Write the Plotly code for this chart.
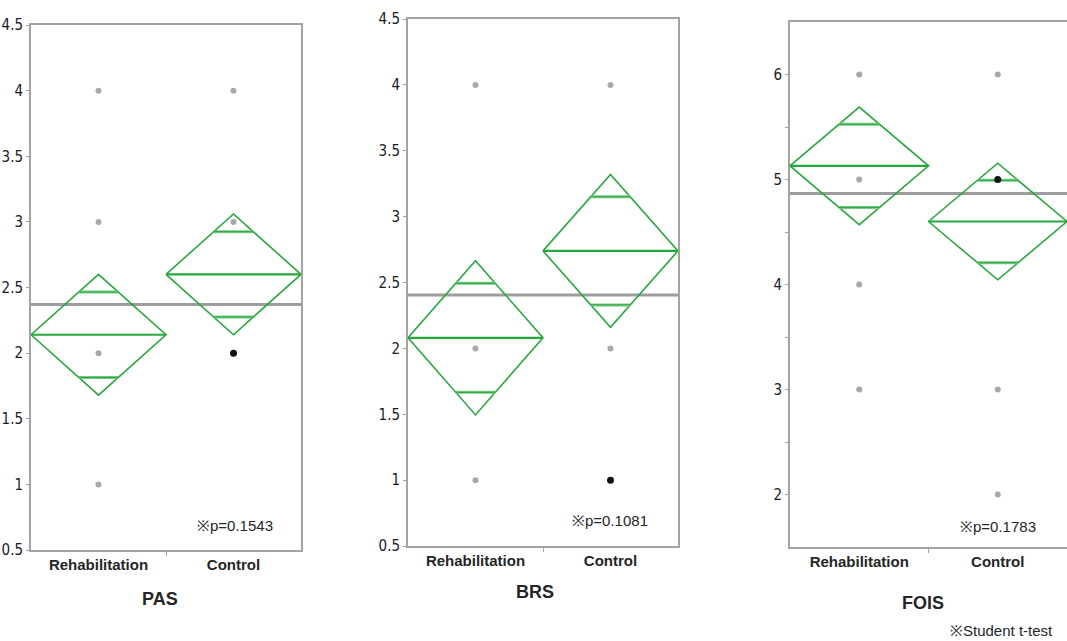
import plotly.graph_objects as go
import math

W, H = 1067, 641

categories = ["Rehabilitation", "Control"]
cat_pos = [0, 1]

# PAS
pas_gray_x = [0, 0, 0, 0, 1, 1]
pas_gray_y = [4, 3, 2, 1, 4, 3]
pas_dark_x = [1]
pas_dark_y = [2]
pas_means = [2.14, 2.60]
pas_ci = [0.46, 0.46]
pas_grand = 2.37
pas_p = "※p=0.1543"

# BRS
brs_gray_x = [0, 0, 0, 1, 1]
brs_gray_y = [4, 2, 1, 4, 2]
brs_dark_x = [1]
brs_dark_y = [1]
brs_means = [2.08, 2.74]
brs_ci = [0.585, 0.58]
brs_grand = 2.405
brs_p = "※p=0.1081"

# FOIS
fois_gray_x = [0, 0, 0, 0, 1, 1, 1]
fois_gray_y = [6, 5, 4, 3, 6, 3, 2]
fois_dark_x = [1]
fois_dark_y = [5]
fois_means = [5.13, 4.60]
fois_ci = [0.56, 0.555]
fois_grand = 4.867
fois_p = "※p=0.1783"

y_ticks_pas = [0.5, 1, 1.5, 2, 2.5, 3, 3.5, 4, 4.5]
y_ticktext_pas = ["0.5", "1", "1.5", "2", "2.5", "3", "3.5", "4", "4.5"]
y_ticks_fois = [2, 3, 4, 5, 6]
y_ticktext_fois = ["2", "3", "4", "5", "6"]
y_minor_fois = [2.5, 3.5, 4.5, 5.5]

panel_titles = ["PAS", "BRS", "FOIS"]
footnote = "※Student t-test"

GREEN = "#27a83e"
GREEN_LIGHT = "#79c985"
GRAY_LINE = "#9d9d9d"
AXIS_GRAY = "#a3a3a3"
TXT = "#262626"

fig = go.Figure()


def add_panel(idx, gx, gy, dx, dy, means, ci, grand):
    xa = "x" if idx == 1 else f"x{idx}"
    ya = "y" if idx == 1 else f"y{idx}"
    fig.add_trace(go.Scatter(x=[-0.5, 1.5], y=[grand, grand], mode="lines",
                             line=dict(color=GRAY_LINE, width=3), xaxis=xa, yaxis=ya,
                             hoverinfo="skip", showlegend=False))
    for c, m, h in zip(cat_pos, means, ci):
        fig.add_trace(go.Scatter(x=[c - 0.5, c, c + 0.5, c, c - 0.5],
                                 y=[m, m + h, m, m - h, m], mode="lines",
                                 line=dict(color=GREEN, width=1.6), xaxis=xa, yaxis=ya,
                                 hoverinfo="skip", showlegend=False))
        fig.add_trace(go.Scatter(x=[c - 0.5, c + 0.5], y=[m, m], mode="lines",
                                 line=dict(color=GREEN, width=2.2), xaxis=xa, yaxis=ya,
                                 hoverinfo="skip", showlegend=False))
        d = h * math.sqrt(2) / 2
        hw = 0.5 * (1 - d / h)
        for yy in (m + d, m - d):
            fig.add_trace(go.Scatter(x=[c - hw, c + hw], y=[yy, yy], mode="lines",
                                     line=dict(color=GREEN_LIGHT, width=3), xaxis=xa, yaxis=ya,
                                     hoverinfo="skip", showlegend=False))
            fig.add_trace(go.Scatter(x=[c - hw, c + hw], y=[yy, yy], mode="lines",
                                     line=dict(color=GREEN, width=1), xaxis=xa, yaxis=ya,
                                     hoverinfo="skip", showlegend=False))
    fig.add_trace(go.Scatter(x=gx, y=gy, mode="markers",
                             marker=dict(symbol="circle", size=6, color="#a8a8a8"),
                             xaxis=xa, yaxis=ya, hoverinfo="skip", showlegend=False))
    fig.add_trace(go.Scatter(x=dx, y=dy, mode="markers",
                             marker=dict(symbol="circle", size=7, color="#111111"),
                             xaxis=xa, yaxis=ya, hoverinfo="skip", showlegend=False))


add_panel(1, pas_gray_x, pas_gray_y, pas_dark_x, pas_dark_y, pas_means, pas_ci, pas_grand)
add_panel(2, brs_gray_x, brs_gray_y, brs_dark_x, brs_dark_y, brs_means, brs_ci, brs_grand)
add_panel(3, fois_gray_x, fois_gray_y, fois_dark_x, fois_dark_y, fois_means, fois_ci, fois_grand)


def px(v):
    return v / W


def py(v):
    return 1 - v / H


tick_font = dict(family="DejaVu Sans Condensed, Liberation Sans Narrow, Liberation Sans",
                 size=15, color="#1a1a2a")
cat_font = dict(family="Liberation Sans, Arial", size=15, color=TXT)

boxes = [
    (31, 301, 25, 550, [0.5, 4.5]),
    (408, 678, 19, 546, [0.5, 4.5]),
    (790, 1067, 22, 547, [1.5, 6.5]),
]

for i, (x0, x1, y0, y1, yr) in enumerate(boxes, start=1):
    sfx = "" if i == 1 else str(i)
    xaxis = dict(domain=[px(x0), px(x1)], range=[-0.5, 1.5], anchor="y" + sfx,
                 tickvals=cat_pos, ticktext=[f"<b>{c}</b>" for c in categories],
                 tickfont=cat_font, ticks="", showgrid=False, zeroline=False,
                 showline=True, linecolor=AXIS_GRAY, linewidth=2, mirror=True,
                 automargin=False,
                 minor=dict(tickmode="array", tickvals=[0.5], ticks="outside",
                            ticklen=4, tickcolor=AXIS_GRAY, showgrid=False),
                 fixedrange=True)
    yaxis = dict(domain=[py(y1), py(y0)], range=yr, anchor="x" + sfx,
                 showgrid=False, zeroline=False, showline=True, linecolor=AXIS_GRAY,
                 linewidth=2, mirror=(i != 3), ticks="outside", ticklen=3,
                 tickcolor=AXIS_GRAY, tickfont=tick_font, fixedrange=True,
                 automargin=False)
    if i < 3:
        yaxis.update(tickvals=y_ticks_pas, ticktext=y_ticktext_pas)
    else:
        yaxis.update(tickvals=y_ticks_fois, ticktext=y_ticktext_fois,
                     minor=dict(tickmode="array", tickvals=y_minor_fois, ticks="outside",
                                ticklen=3, tickcolor=AXIS_GRAY, showgrid=False))
    fig.update_layout({f"xaxis{sfx}": xaxis, f"yaxis{sfx}": yaxis})

annotations = []
title_pos = [(160, 599), (535, 592), (923, 603)]
for t, (ax, ay) in zip(panel_titles, title_pos):
    annotations.append(dict(text=f"<b>{t}</b>", x=px(ax), y=py(ay), xref="paper", yref="paper",
                            xanchor="center", yanchor="middle", showarrow=False,
                            font=dict(family="Liberation Sans, Arial", size=18, color=TXT)))
p_pos = [(pas_p, 235, 525), (brs_p, 610, 520), (fois_p, 998, 526), (footnote, 1001, 630)]
for t, ax, ay in p_pos:
    annotations.append(dict(text=t, x=px(ax), y=py(ay), xref="paper", yref="paper",
                            xanchor="center", yanchor="middle", showarrow=False,
                            font=dict(family="Liberation Sans, Arial", size=15, color=TXT)))

fig.update_layout(width=W, height=H,
                  margin=dict(l=0, r=0, t=0, b=0, pad=0, autoexpand=False),
                  paper_bgcolor="white", plot_bgcolor="white",
                  annotations=annotations, showlegend=False)

fig.write_html("out.html", config={"displayModeBar": False},
               post_script="document.body.style.margin='0';document.body.style.overflow='hidden';")
